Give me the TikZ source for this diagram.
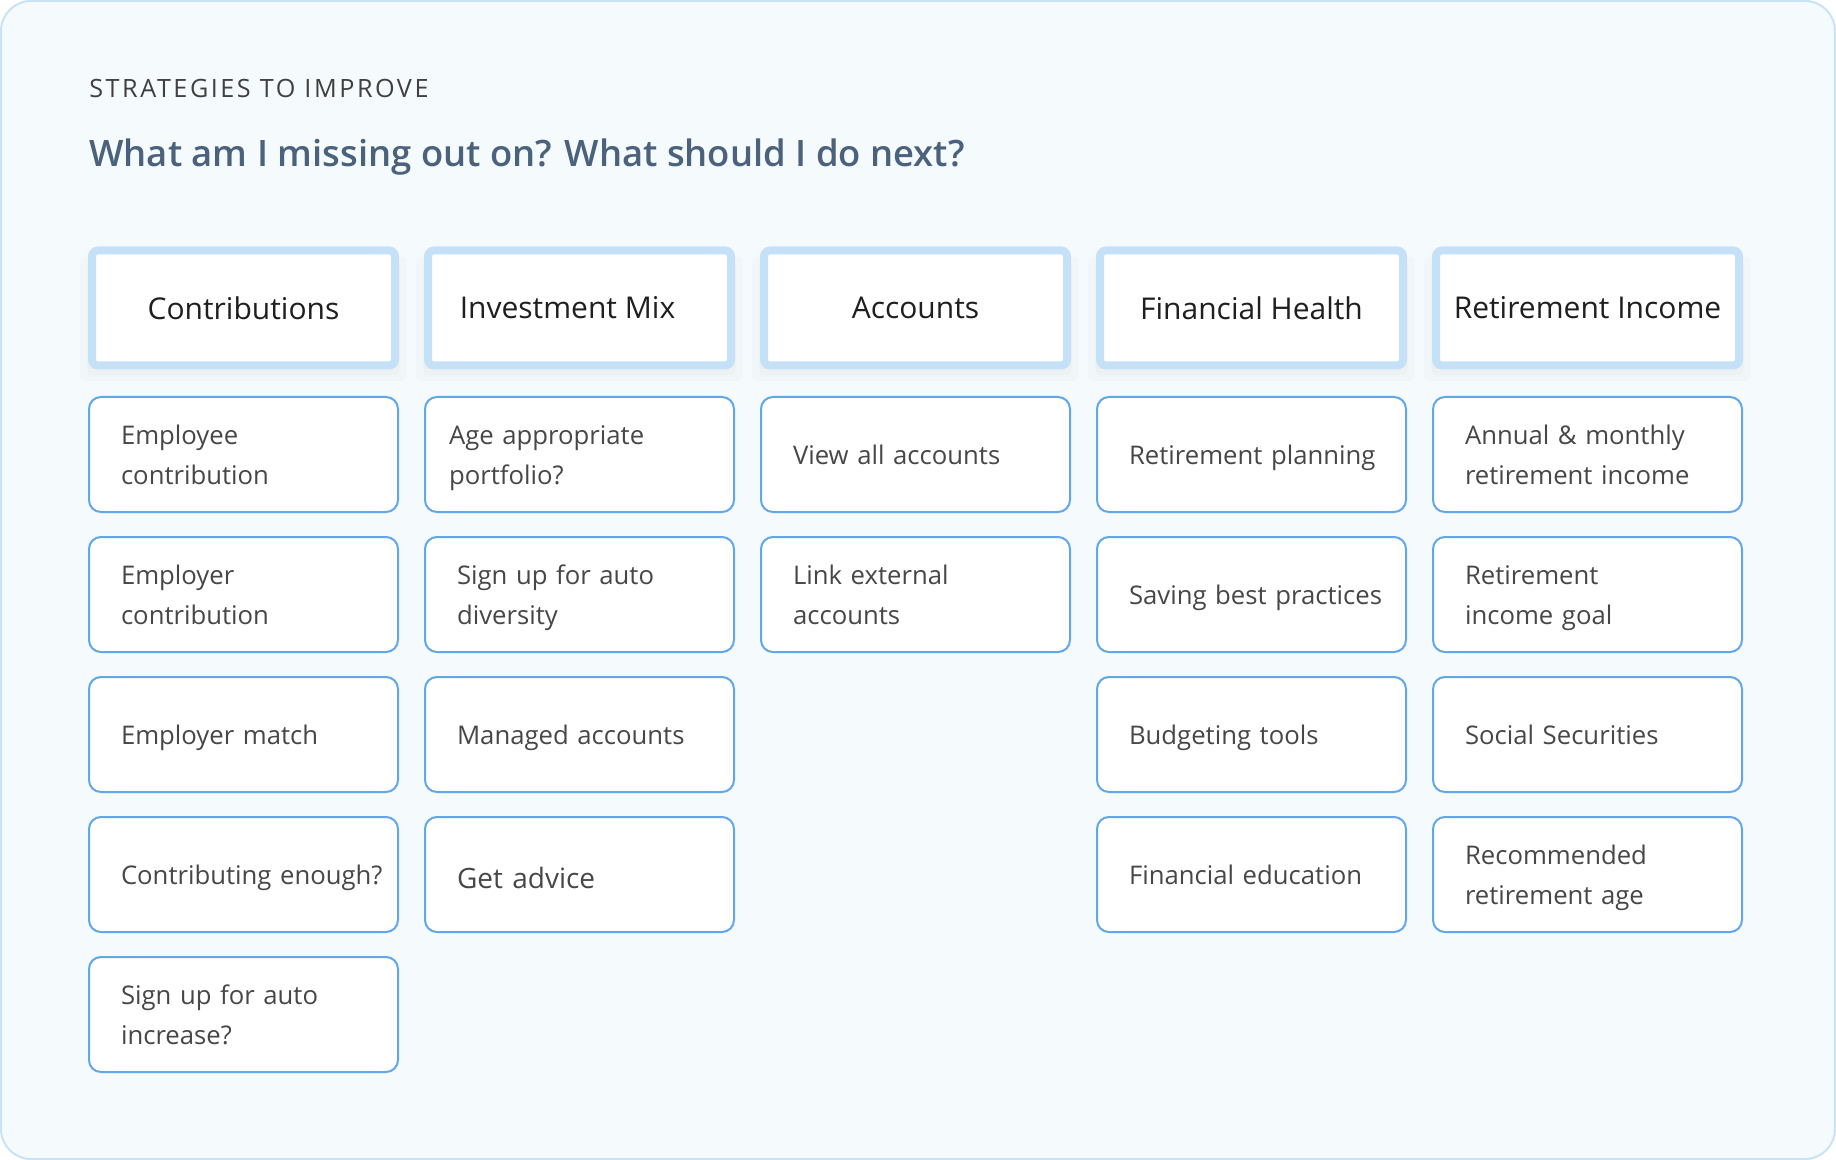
\documentclass[tikz,border=0pt]{standalone}
\usepackage{fontspec}
\setmainfont{Open Sans}
\IfFontExistsTF{Open Sans Semibold}{\newfontfamily\titlefont{Open Sans Semibold}}{\newcommand\titlefont{\bfseries}}
\usetikzlibrary{shadows}
\definecolor{frameline}{HTML}{C8E3F8}
\definecolor{framefill}{HTML}{F5FAFD}
\definecolor{headline}{HTML}{C5E1F7}
\definecolor{cardline}{HTML}{62A7EC}
\definecolor{cardtext}{HTML}{474747}
\definecolor{titleblue}{HTML}{4B627C}
\definecolor{kicker}{HTML}{404040}
\tikzset{
  head/.style={draw=headline, line width=4pt, fill=white, rounded corners=3pt,
    minimum width=151.5pt, minimum height=57.5pt, inner sep=0pt,
    font=\fontsize{15}{20}\selectfont, text=black!88,
    drop shadow={shadow xshift=0pt, shadow yshift=-5pt, shadow scale=1.08, opacity=.03},
    drop shadow={shadow xshift=0pt, shadow yshift=-4pt, shadow scale=1.03, opacity=.04}},
  card/.style={draw=cardline, line width=1pt, fill=white, rounded corners=6pt,
    text width=122.5pt, inner xsep=16pt, inner ysep=0pt, minimum height=57.5pt,
    align=left, font=\fontsize{12.85}{20}\selectfont, text=cardtext,
    execute at begin node=\rule{0pt}{16.4pt}, execute at end node=\strut},
}

\begin{document}
\begin{tikzpicture}[x=0.5pt,y=-0.5pt]
				\useasboundingbox (0,0) rectangle (1836,1160);
				\draw[draw=frameline, line width=1pt, fill=framefill, rounded corners=15pt] (1,1) rectangle (1835,1159);
				
				\node[anchor=base west, inner sep=0pt, text=kicker, font=\fontsize{12.6}{15}\selectfont\addfontfeature{LetterSpace=10}] (kick) at (89,98) {STRATEGIES TO IMPROVE};
				\node[anchor=base west, inner sep=0pt, text=titleblue, font=\fontsize{18.2}{22}\selectfont\titlefont] (title) at (89,167) {What am I missing out on? What should I do next?};
				
				% column heads
				\node[head] (hContrib) at (243.5,308) {Contributions};
				\node[head] (hInvest) at (579.5,308) {\hspace*{-12pt}Investment Mix};
				\node[head] (hAcc) at (915.5,308) {Accounts};
				\node[head] (hHealth) at (1251.5,308) {Financial Health};
				\node[head] (hIncome) at (1587.5,308) {Retirement Income};
				
				% contributions
				\node[card] (contrib1) at (243.5,454.5) {Employee\\contribution};
				\node[card] (contrib2) at (243.5,594.5) {Employer\\contribution};
				\node[card] (contrib3) at (243.5,734.5) {Employer match};
				\node[card] (contrib4) at (243.5,874.5) {\mbox{Contributing enough?}};
				\node[card] (contrib5) at (243.5,1014.5) {Sign up for auto\\increase?};
				
				% investment mix
				\node[card] (invest1) at (579.5,454.5) {\hspace*{-4pt}Age appropriate\\\hspace*{-4pt}portfolio?};
				\node[card] (invest2) at (579.5,594.5) {Sign up for auto\\diversity};
				\node[card] (invest3) at (579.5,734.5) {Managed accounts};
				\node[card, font=\fontsize{14}{20}\selectfont] (invest4) at (579.5,874.5) {\rule{0pt}{20pt}Get advice};
				
				% accounts
				\node[card] (acc1) at (915.5,454.5) {View all accounts};
				\node[card] (acc2) at (915.5,594.5) {Link external\\accounts};
				
				% financial health
				\node[card] (health1) at (1251.5,454.5) {\mbox{Retirement planning}};
				\node[card] (health2) at (1251.5,594.5) {\mbox{Saving best practices}};
				\node[card] (health3) at (1251.5,734.5) {Budgeting tools};
				\node[card] (health4) at (1251.5,874.5) {Financial education};
				
				% retirement income
				\node[card] (income1) at (1587.5,454.5) {Annual \& monthly\\retirement income};
				\node[card] (income2) at (1587.5,594.5) {Retirement\\income goal};
				\node[card] (income3) at (1587.5,734.5) {Social Securities};
				\node[card] (income4) at (1587.5,874.5) {Recommended\\retirement age};
			\end{tikzpicture}
\end{document}
